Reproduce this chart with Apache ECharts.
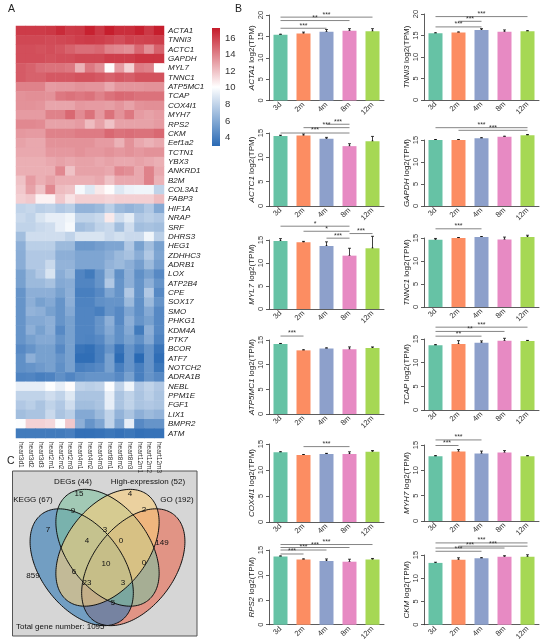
<!DOCTYPE html>
<html>
<head>
<meta charset="utf-8">
<title>Heart gene expression</title>
<script src="https://cdn.jsdelivr.net/npm/echarts@6/dist/echarts.min.js"></script>
<style>
  html, body { margin: 0; padding: 0; background: #fff; }
  #chart { width: 550px; height: 643px; }
</style>
</head>
<body>
<div id="chart"></div>
<script>
// ---- heatmap (A) ----
var samples = ['heart3d1', 'heart3d2', 'heart3d3', 'heart2m1', 'heart2m2', 'heart2m3',
  'heart4m1', 'heart4m2', 'heart4m3', 'heart8m1', 'heart8m2', 'heart8m3',
  'heart12m1', 'heart12m2', 'heart12m3'];
var genes = ['ACTA1', 'TNNI3', 'ACTC1', 'GAPDH', 'MYL7', 'TNNC1', 'ATP5MC1', 'TCAP', 'COX4I1',
  'MYH7', 'RPS2', 'CKM', 'Eef1a2', 'TCTN1', 'YBX3', 'ANKRD1', 'B2M', 'COL3A1', 'FABP3',
  'HIF1A', 'NRAP', 'SRF', 'DHRS3', 'HEG1', 'ZDHHC3', 'ADRB1', 'LOX', 'ATP2B4', 'CPE',
  'SOX17', 'SMO', 'PHKG1', 'KDM4A', 'PTK7', 'BCOR', 'ATF7', 'NOTCH2', 'ADRA1B', 'NEBL',
  'PPM1E', 'FGF1', 'LIX1', 'BMPR2', 'ATM'];
// one row per gene, one value per sample (log2 TPM)
var heatValues = [
  [16.2, 16.2, 16.2, 16.3, 16.7, 16.2, 16.3, 17.0, 16.3, 17.1, 16.6, 16.6, 17.0, 16.3, 17.1],
  [15.8, 15.8, 15.8, 15.7, 15.8, 15.9, 16.1, 16.2, 16.1, 15.9, 15.6, 16.0, 15.9, 16.0, 16.1],
  [15.6, 15.6, 15.5, 15.6, 15.4, 15.0, 14.6, 14.6, 14.8, 14.0, 13.8, 13.6, 14.8, 13.6, 15.0],
  [15.6, 15.6, 15.6, 15.5, 15.6, 15.6, 15.8, 15.8, 15.8, 16.1, 16.1, 16.1, 16.4, 16.4, 16.4],
  [15.2, 15.0, 14.6, 14.5, 14.5, 14.3, 12.5, 14.3, 13.6, 10.2, 13.2, 11.5, 14.2, 14.0, 10.2],
  [15.2, 15.0, 15.0, 15.3, 15.3, 15.3, 15.5, 15.5, 15.3, 15.0, 15.3, 15.1, 15.5, 15.5, 15.5],
  [14.0, 14.0, 14.0, 13.2, 13.3, 13.3, 13.5, 13.4, 13.4, 12.8, 13.4, 13.4, 13.4, 13.5, 13.5],
  [13.5, 13.6, 13.6, 13.5, 14.3, 14.5, 14.3, 14.5, 14.0, 14.5, 14.8, 14.7, 14.5, 14.5, 14.5],
  [13.5, 13.5, 13.4, 12.9, 12.9, 12.9, 13.3, 13.2, 13.2, 13.1, 13.4, 13.0, 13.5, 13.6, 13.6],
  [13.2, 13.2, 13.2, 14.0, 14.0, 14.8, 13.7, 14.5, 13.3, 14.5, 13.5, 14.3, 13.2, 13.0, 13.2],
  [13.8, 13.8, 13.7, 13.0, 13.0, 13.0, 13.2, 12.2, 13.0, 12.0, 13.0, 13.0, 13.0, 13.0, 13.2],
  [13.3, 13.2, 13.2, 14.0, 14.0, 14.0, 14.2, 14.2, 14.2, 14.8, 14.5, 14.6, 14.5, 14.5, 14.8],
  [13.0, 12.8, 12.8, 13.5, 13.5, 13.5, 13.5, 13.5, 13.2, 13.2, 12.5, 13.5, 12.8, 12.5, 12.8],
  [12.8, 12.8, 12.8, 13.3, 13.3, 13.3, 13.5, 13.3, 13.3, 13.5, 13.3, 13.5, 13.3, 13.5, 13.5],
  [12.6, 12.6, 12.6, 12.8, 13.0, 12.8, 13.0, 13.0, 12.8, 13.0, 12.8, 12.8, 13.0, 12.8, 12.6],
  [12.6, 12.6, 12.6, 12.6, 13.8, 12.0, 13.0, 13.0, 13.0, 12.8, 13.8, 13.6, 12.8, 14.0, 12.8],
  [12.0, 13.2, 12.6, 13.0, 12.6, 12.6, 12.6, 12.6, 12.8, 12.0, 12.8, 12.8, 12.8, 14.0, 12.5],
  [11.8, 13.0, 12.0, 13.8, 12.2, 12.0, 9.8, 9.0, 10.8, 10.2, 9.0, 9.5, 9.6, 9.6, 8.0],
  [11.6, 11.8, 10.5, 10.5, 11.8, 11.0, 11.6, 11.6, 11.6, 11.4, 11.6, 11.6, 11.6, 11.6, 12.2],
  [8.0, 8.2, 7.8, 8.0, 7.5, 7.8, 6.5, 6.5, 6.8, 7.8, 6.8, 6.5, 6.8, 7.5, 6.0],
  [8.3, 8.0, 8.8, 9.3, 9.3, 9.6, 8.0, 8.0, 8.3, 10.8, 8.5, 9.2, 7.5, 7.8, 7.5],
  [8.0, 8.0, 8.3, 8.5, 9.3, 9.8, 7.0, 7.3, 8.0, 8.3, 7.0, 8.5, 7.0, 7.2, 7.0],
  [7.0, 8.5, 8.5, 8.5, 8.5, 8.0, 8.8, 8.8, 8.8, 8.3, 8.6, 8.3, 8.3, 9.6, 7.8],
  [6.3, 7.8, 7.8, 7.8, 6.8, 6.8, 5.2, 5.2, 5.5, 5.8, 5.8, 7.5, 5.6, 7.0, 5.6],
  [6.2, 7.5, 7.5, 7.5, 6.3, 6.3, 5.8, 5.8, 5.8, 6.2, 6.8, 7.2, 6.2, 7.5, 5.8],
  [6.2, 7.5, 7.5, 8.3, 6.5, 6.5, 5.8, 5.8, 5.8, 6.5, 6.8, 6.3, 5.5, 6.8, 5.5],
  [5.6, 6.8, 7.5, 8.8, 6.2, 6.8, 4.3, 3.8, 5.0, 6.8, 4.8, 6.3, 4.8, 5.6, 4.5],
  [5.6, 6.8, 6.8, 7.2, 6.0, 6.2, 4.3, 4.3, 5.0, 7.5, 5.0, 6.3, 5.0, 6.3, 5.0],
  [5.0, 6.3, 6.3, 6.3, 5.6, 6.3, 4.0, 4.0, 4.5, 5.8, 5.0, 7.5, 5.0, 7.5, 4.5],
  [5.0, 6.3, 5.6, 6.0, 5.0, 6.3, 4.2, 4.2, 4.8, 5.0, 5.0, 6.8, 4.8, 6.8, 5.0],
  [5.0, 6.5, 6.3, 5.6, 5.0, 6.0, 4.3, 4.3, 4.0, 5.0, 4.5, 5.8, 4.8, 6.0, 4.5],
  [5.0, 6.0, 6.0, 6.3, 5.0, 5.6, 4.3, 4.3, 5.0, 6.3, 4.5, 6.3, 5.0, 5.6, 4.5],
  [5.0, 6.3, 5.6, 6.3, 4.5, 5.6, 4.3, 4.3, 5.0, 6.0, 4.8, 6.0, 3.8, 6.3, 4.5],
  [5.0, 5.6, 6.0, 6.0, 5.0, 5.6, 4.3, 4.2, 4.5, 5.6, 4.8, 5.6, 4.8, 6.0, 4.2],
  [4.5, 5.0, 5.6, 5.6, 4.5, 5.6, 3.5, 3.3, 4.0, 5.0, 3.5, 5.0, 4.0, 5.0, 3.5],
  [4.8, 6.3, 5.6, 5.6, 5.0, 5.6, 3.2, 3.2, 4.0, 5.6, 3.1, 5.0, 3.0, 5.0, 3.2],
  [4.8, 5.0, 5.3, 5.6, 4.8, 5.6, 4.0, 4.2, 4.5, 5.6, 4.0, 5.0, 4.0, 5.0, 3.6],
  [4.2, 4.3, 4.0, 4.2, 4.8, 4.3, 4.8, 5.0, 5.0, 5.0, 4.5, 5.6, 4.0, 5.0, 4.5],
  [9.3, 9.3, 9.3, 10.0, 9.3, 10.2, 8.0, 7.8, 8.0, 10.0, 8.0, 9.6, 7.5, 8.0, 7.5],
  [8.0, 8.0, 8.0, 8.5, 8.0, 9.0, 7.3, 7.3, 7.3, 9.3, 7.3, 8.0, 7.3, 7.8, 7.3],
  [7.5, 7.8, 7.3, 8.0, 7.5, 8.5, 7.0, 7.0, 7.3, 9.3, 7.3, 8.0, 7.3, 7.5, 7.3],
  [7.0, 7.3, 7.3, 8.3, 7.3, 7.8, 6.0, 6.0, 6.8, 8.0, 6.5, 7.3, 6.3, 6.8, 6.5],
  [10.0, 11.5, 11.5, 11.3, 10.0, 11.8, 6.3, 5.0, 5.8, 8.0, 5.8, 9.3, 4.5, 5.0, 5.0],
  [3.8, 3.8, 3.8, 3.8, 3.8, 4.0, 3.3, 3.3, 3.4, 3.6, 3.4, 3.6, 3.3, 3.4, 3.4]
];
var colorbarTicks = [4, 6, 8, 10, 12, 14, 16];

// ---- bar panels (B) ----
var groups = ['3d', '2m', '4m', '8m', '12m'];
var panelGenes = ['ACTA1', 'TNNI3', 'ACTC1', 'GAPDH', 'MYL7', 'TNNC1',
  'ATP5MC1', 'TCAP', 'COX4I1', 'MYH7', 'RPS2', 'CKM'];
var panelTopTick = [20, 20, 15, 15, 15, 15, 15, 15, 15, 15, 15, 15];
var panelMeans = [
  [15.4, 15.7, 16.1, 16.3, 16.2],
  [15.5, 15.7, 16.3, 15.9, 16.0],
  [14.4, 14.5, 13.8, 12.3, 13.3],
  [15.0, 15.0, 15.4, 15.75, 16.1],
  [14.8, 14.5, 13.7, 11.6, 13.2],
  [14.6, 15.0, 15.2, 14.7, 15.2],
  [14.2, 12.9, 13.3, 13.1, 13.4],
  [13.7, 13.95, 14.2, 14.65, 14.6],
  [13.4, 12.9, 13.1, 13.1, 13.5],
  [12.8, 13.7, 13.3, 13.5, 12.8],
  [13.7, 13.1, 12.8, 12.65, 13.1],
  [13.3, 14.0, 14.3, 14.65, 14.65]
];
var panelErrors = [
  [0.1, 0.3, 0.5, 0.5, 0.6],
  [0.1, 0.1, 0.3, 0.4, 0.1],
  [0.15, 0.3, 0.3, 0.5, 1.0],
  [0.1, 0.1, 0.1, 0.1, 0.15],
  [0.5, 0.2, 0.9, 1.6, 2.6],
  [0.3, 0.1, 0.1, 0.5, 0.4],
  [0.1, 0.1, 0.1, 0.5, 0.2],
  [0.1, 0.7, 0.4, 0.5, 0.1],
  [0.1, 0.05, 0.1, 0.4, 0.25],
  [0.1, 0.4, 0.5, 0.4, 0.1],
  [0.1, 0.1, 0.4, 0.5, 0.2],
  [0.15, 0.4, 0.1, 0.2, 0.4]
];
// significance brackets: [from group, to group, height]
var panelSig = [
  [[0, 4, 19.5], [0, 3, 18.7], [0, 2, 16.9]],
  [[0, 4, 19.4], [1, 2, 18.3], [0, 2, 17.0]],
  [[2, 3, 16.8], [1, 3, 16.1], [0, 3, 15.0]],
  [[0, 4, 17.8], [1, 4, 17.2]],
  [[0, 3, 18.0], [1, 3, 16.9], [3, 4, 16.4], [2, 3, 15.4]],
  [[0, 2, 17.0]],
  [[0, 1, 15.8]],
  [[0, 4, 17.5], [0, 3, 16.6], [0, 2, 15.6]],
  [[1, 3, 14.5]],
  [[0, 2, 16.0], [0, 1, 14.9]],
  [[0, 4, 16.1], [0, 3, 15.5], [0, 2, 15.0], [0, 1, 14.2]],
  [[0, 4, 17.6], [1, 4, 16.9], [0, 3, 16.5], [0, 2, 15.8]]
];
var panelStars = [
  ['***', '**', '***'],
  ['***', '***', '***'],
  ['***', '***', '***'],
  ['***', '***'],
  ['*', '*', '***', '***'],
  ['***'],
  ['***'],
  ['***', '**', '**'],
  ['***'],
  ['***', '***'],
  ['***', '***', '***', '***'],
  ['***', '***', '***', '***']
];

// ---- venn (C) ----
var vennSets = ['KEGG (67)', 'DEGs (44)', 'High-expression (52)', 'GO (192)'];
var vennCounts = [15, 4, 9, 2, 7, 149, 3, 4, 0, 10, 6, 0, 23, 3, 5, 859];
var vennTotal = 1095;

// ---- layout / style ----
var FONT = 'Liberation Sans, Arial, Helvetica, sans-serif';
var barColors = ['#66c2a5', '#fc8d62', '#8da0cb', '#e78ac3', '#a6d854'];
var heatColors = ['#2a6ab4', '#ffffff', '#c51b2a'];
var panelBox = [ // [top, height] of the 0..topTick span
  [15, 85.5], [14, 86], [133, 73], [140, 66], [240, 69], [238, 69],
  [340, 74], [339, 71], [444, 78], [445, 76], [550, 79], [555, 73]
];
var vennLabelPos = [
  [79, 494], [130, 494], [73, 511], [144, 510], [48, 530], [162, 543], [105, 530],
  [87, 541], [121, 541], [106, 564], [74, 572], [144, 563], [87, 583], [123, 583],
  [113, 603], [33, 576]
];
var vennSetPos = [[33, 500], [73, 482], [148, 482], [177, 500]];
var vennEllipses = [ // normalised centre x, y, rotation; drawn bottom to top
  {x: 0.65, y: 0.47, rot: 45, color: '#e8674f'},
  {x: 0.35, y: 0.47, rot: -45, color: '#2f78b4'},
  {x: 0.5, y: 0.57, rot: -45, color: '#7fbf9f'},
  {x: 0.5, y: 0.57, rot: 45, color: '#f9cd7a'}
];
var VX0 = 107.5, VSX = 172, VY0 = 658.7, VSY = 194.6;

function ellipsePoints(cx, cy, rotDeg) {
  var a = 0.36, b = 0.225, r = rotDeg * Math.PI / 180, pts = [];
  for (var k = 0; k < 160; k++) {
    var t = k / 160 * 2 * Math.PI;
    var ex = a * Math.cos(t), ey = b * Math.sin(t);
    var x = cx + ex * Math.cos(r) - ey * Math.sin(r);
    var y = cy + ex * Math.sin(r) + ey * Math.cos(r);
    pts.push([VX0 + (x - 0.5) * VSX, VY0 - y * VSY]);
  }
  return pts;
}

var chart = echarts.init(document.getElementById('chart'));
var grids = [], xAxes = [], yAxes = [], series = [];

// heatmap grid
grids.push({left: 16, top: 26, width: 148, height: 412});
xAxes.push({
  type: 'category', gridIndex: 0, data: samples,
  axisLine: {show: false}, axisTick: {show: false},
  axisLabel: {rotate: -90, fontSize: 6.5, color: '#333', margin: 4, interval: 0, fontFamily: FONT}
});
yAxes.push({
  type: 'category', gridIndex: 0, data: genes, inverse: true, position: 'right',
  axisLine: {show: false}, axisTick: {show: false},
  axisLabel: {fontSize: 8, fontStyle: 'italic', color: '#222', margin: 4, interval: 0, fontFamily: FONT}
});
var heatData = [];
heatValues.forEach(function (row, r) {
  row.forEach(function (v, c) { heatData.push([c, r, v]); });
});
series.push({
  type: 'heatmap', xAxisIndex: 0, yAxisIndex: 0, data: heatData,
  itemStyle: {borderWidth: 0}, emphasis: {disabled: true}, silent: true
});

// colour bar axis
grids.push({left: 212, top: 28, width: 8, height: 118});
xAxes.push({type: 'value', gridIndex: 1, show: false, min: 0, max: 1});
yAxes.push({
  type: 'value', gridIndex: 1, min: 3, max: 17.2, position: 'right',
  axisLine: {show: false}, axisTick: {show: false}, splitLine: {show: false},
  axisLabel: {customValues: colorbarTicks, fontSize: 9.5, color: '#333', margin: 5, fontFamily: FONT}
});

// bar panels
panelGenes.forEach(function (gene, i) {
  var g = i + 2;
  var left = (i % 2) ? 424 : 269;
  grids.push({left: left, top: panelBox[i][0], width: 115, height: panelBox[i][1]});
  xAxes.push({
    type: 'category', gridIndex: g, data: groups,
    axisTick: {show: false},
    axisLine: {lineStyle: {color: '#333', width: 0.8}},
    axisLabel: {rotate: 45, fontSize: 7.5, color: '#333', margin: 3, interval: 0, fontFamily: FONT}
  });
  yAxes.push({
    type: 'value', gridIndex: g, min: 0, max: panelTopTick[i], interval: 5,
    splitLine: {show: false},
    axisLine: {show: true, lineStyle: {color: '#333', width: 0.8}},
    axisTick: {show: true, length: 3, lineStyle: {color: '#333', width: 0.8}},
    axisLabel: {rotate: 90, fontSize: 7.5, color: '#333', margin: 4, fontFamily: FONT},
    name: '{i|' + gene + '} log2(TPM)', nameLocation: 'middle', nameGap: 13,
    nameTextStyle: {fontSize: 8, color: '#222', fontFamily: FONT,
      rich: {i: {fontStyle: 'italic', fontSize: 8, fontFamily: FONT, color: '#222'}}}
  });
  series.push({
    type: 'bar', xAxisIndex: g, yAxisIndex: g, barWidth: 14, clip: false, silent: true,
    data: panelMeans[i].map(function (v, k) {
      return {value: v, itemStyle: {color: barColors[k]}};
    })
  });
  series.push({
    type: 'custom', xAxisIndex: g, yAxisIndex: g, silent: true, clip: false,
    encode: {x: 0, y: 1},
    data: panelMeans[i].map(function (v, k) { return [k, v, panelErrors[i][k]]; }),
    renderItem: function (params, api) {
      var x = api.value(0), m = api.value(1), e = api.value(2);
      var top = api.coord([x, m + e]), bot = api.coord([x, m - e]), mid = api.coord([x, m]);
      var st = {stroke: '#111', lineWidth: 0.8};
      return {type: 'group', children: [
        {type: 'line', shape: {x1: top[0], y1: top[1], x2: bot[0], y2: bot[1]}, style: st},
        {type: 'line', shape: {x1: top[0] - 1.5, y1: top[1], x2: top[0] + 1.5, y2: top[1]}, style: st},
        {type: 'line', shape: {x1: bot[0] - 1.5, y1: bot[1], x2: bot[0] + 1.5, y2: bot[1]}, style: st},
        {type: 'circle', shape: {cx: mid[0], cy: mid[1], r: 1}, style: {fill: '#111'}}
      ]};
    }
  });
  series.push({
    type: 'custom', xAxisIndex: g, yAxisIndex: g, silent: true, clip: false,
    encode: {x: [0, 1], y: 2},
    data: panelSig[i],
    renderItem: function (params, api) {
      var a = api.coord([api.value(0), api.value(2)]);
      var b = api.coord([api.value(1), api.value(2)]);
      return {type: 'group', children: [
        {type: 'line', shape: {x1: a[0], y1: a[1], x2: b[0], y2: b[1]},
          style: {stroke: '#666', lineWidth: 0.8}},
        {type: 'text', x: (a[0] + b[0]) / 2, y: a[1] + 1,
          style: {text: panelStars[i][params.dataIndex], align: 'center', verticalAlign: 'bottom',
            fontSize: 7, fill: '#333', fontFamily: FONT}}
      ]};
    }
  });
});

// graphics: panel letters, colour bar, venn diagram
var graphics = [
  {type: 'text', x: 8, y: 4, style: {text: 'A', fontSize: 10.5, fill: '#222', fontFamily: FONT}},
  {type: 'text', x: 235, y: 4, style: {text: 'B', fontSize: 10.5, fill: '#222', fontFamily: FONT}},
  {type: 'text', x: 7, y: 456, style: {text: 'C', fontSize: 10.5, fill: '#222', fontFamily: FONT}},
  {type: 'rect', shape: {x: 212, y: 28, width: 8, height: 118},
    style: {fill: new echarts.graphic.LinearGradient(0, 0, 0, 1, [
      {offset: 0, color: heatColors[2]}, {offset: 0.5, color: heatColors[1]},
      {offset: 1, color: heatColors[0]}])}},
  {type: 'rect', shape: {x: 12.5, y: 471, width: 184.5, height: 165},
    style: {fill: '#d6d6d6', stroke: '#555', lineWidth: 1}}
];
vennEllipses.forEach(function (e) {
  graphics.push({type: 'polygon', shape: {points: ellipsePoints(e.x, e.y, e.rot)},
    style: {fill: e.color, opacity: 0.6}});
});
vennEllipses.forEach(function (e) {
  graphics.push({type: 'polygon', shape: {points: ellipsePoints(e.x, e.y, e.rot)},
    style: {fill: 'none', stroke: '#111', lineWidth: 1}});
});
vennCounts.forEach(function (n, k) {
  graphics.push({type: 'text', x: vennLabelPos[k][0], y: vennLabelPos[k][1],
    style: {text: String(n), align: 'center', verticalAlign: 'middle', fontSize: 8,
      fill: '#111', fontFamily: FONT}});
});
vennSets.forEach(function (s, k) {
  graphics.push({type: 'text', x: vennSetPos[k][0], y: vennSetPos[k][1],
    style: {text: s, align: 'center', verticalAlign: 'middle', fontSize: 8,
      fill: '#111', fontFamily: FONT}});
});
graphics.push({type: 'text', x: 16, y: 627,
  style: {text: 'Total gene number: ' + vennTotal, align: 'left', verticalAlign: 'middle',
    fontSize: 8, fill: '#111', fontFamily: FONT}});

chart.setOption({
  animation: false,
  textStyle: {fontFamily: FONT},
  grid: grids,
  xAxis: xAxes,
  yAxis: yAxes,
  visualMap: {
    show: false, type: 'continuous', seriesIndex: 0, min: 3, max: 17.2,
    inRange: {color: heatColors}
  },
  graphic: graphics,
  series: series
});
</script>
</body>
</html>
